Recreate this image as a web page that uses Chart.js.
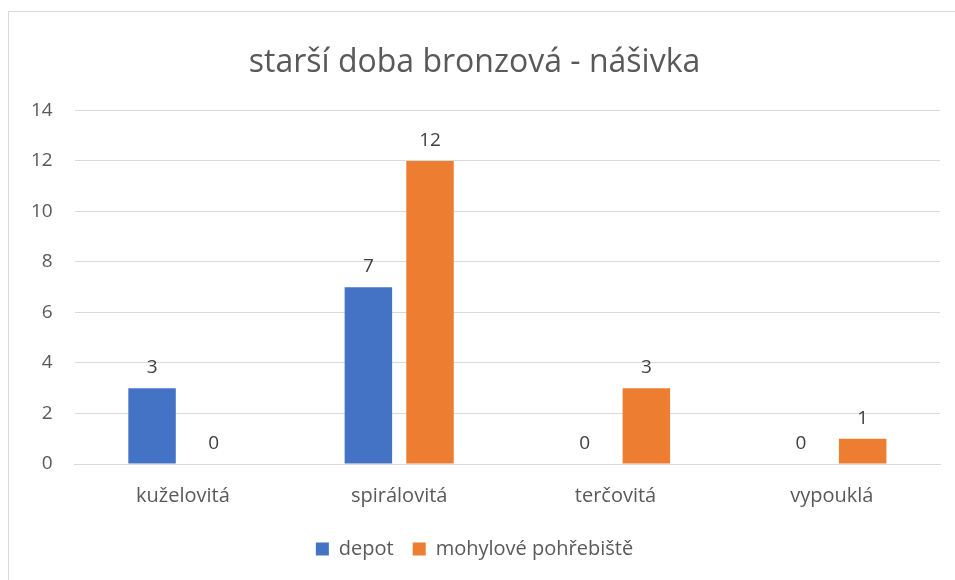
<!DOCTYPE html>
<html>
<head>
<meta charset="utf-8">
<script src="https://cdn.jsdelivr.net/npm/chart.js@4"></script>
<style>
  html, body { margin: 0; padding: 0; background: #fff; }
  #wrap { position: absolute; left: 0; top: 0; width: 955px; height: 580px; }
  #frame { position: absolute; left: 8px; top: 11px; width: 960px; height: 600px; border: 1px solid #d9d9d9; box-sizing: border-box; }
  canvas { position: absolute; left: 0; top: 0; }
</style>
</head>
<body>
<div id="wrap">
  <div id="frame"></div>
  <canvas id="chart" width="955" height="580"></canvas>
</div>
<script>
// chart data
const categories = ['kuželovitá', 'spirálovitá', 'terčovitá', 'vypouklá'];
const depot = [3, 7, 0, 0];
const mohyly = [0, 12, 3, 1];
const yTicks = [0, 2, 4, 6, 8, 10, 12, 14];

const textColor = '#595959';
const fontFamily = "'Open Sans', 'Noto Sans', sans-serif";

// draws the value above every bar
const valueLabels = {
    id: 'valueLabels',
    afterDatasetsDraw(chart) {
        const ctx = chart.ctx;
        ctx.save();
        ctx.font = '19px ' + fontFamily;
        ctx.fillStyle = '#404040';
        ctx.textAlign = 'center';
        ctx.textBaseline = 'bottom';
        chart.data.datasets.forEach((ds, i) => {
            chart.getDatasetMeta(i).data.forEach((bar, j) => {
                ctx.fillText(String(ds.data[j]), bar.x, bar.y - 11);
            });
        });
        ctx.restore();
    }
};

new Chart(document.getElementById('chart'), {
    type: 'bar',
    data: {
        labels: categories,
        datasets: [
            { label: 'depot', data: depot, backgroundColor: '#4472c4' },
            { label: 'mohylové pohřebiště', data: mohyly, backgroundColor: '#ed7d31' }
        ]
    },
    options: {
        responsive: false,
        animation: false,
        categoryPercentage: 0.57,
        barPercentage: 0.77,
        layout: { padding: { left: 9, right: 15, top: 12, bottom: 11 } },
        plugins: {
            title: {
                display: true,
                text: 'starší doba bronzová - nášivka',
                color: textColor,
                font: { family: fontFamily, size: 32, weight: 'normal' },
                padding: { top: 32, bottom: 28 }
            },
            legend: {
                position: 'bottom',
                labels: {
                    color: textColor,
                    boxWidth: 13,
                    boxHeight: 13,
                    padding: 19,
                    font: { family: fontFamily, size: 20 }
                }
            },
            tooltip: { enabled: false }
        },
        scales: {
            x: {
                grid: { display: false },
                border: { color: '#d9d9d9' },
                ticks: { color: textColor, font: { family: fontFamily, size: 20 }, padding: 12 }
            },
            y: {
                min: 0,
                max: 14,
                afterBuildTicks: axis => { axis.ticks = yTicks.map(v => ({ value: v })); },
                grid: { color: '#d9d9d9', drawTicks: false },
                border: { display: false },
                ticks: { color: textColor, font: { family: fontFamily, size: 19 }, padding: 22 }
            }
        }
    },
    plugins: [valueLabels]
});
</script>
</body>
</html>
